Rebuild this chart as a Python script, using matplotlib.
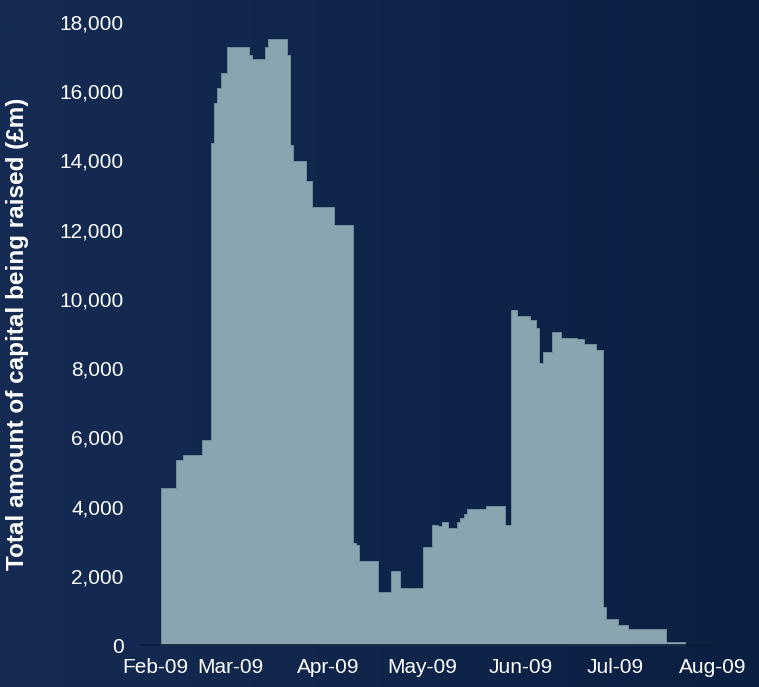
import numpy as np
import pandas as pd
import matplotlib
matplotlib.use("Agg")
import matplotlib.pyplot as plt
import matplotlib.dates as mdates
import matplotlib.ticker as mticker
import matplotlib.transforms as mtransforms

plt.rcParams["font.family"] = ["Liberation Sans", "DejaVu Sans"]

# Step changes in the total amount of capital being raised (GBP m)
change_dates = [
    "2009-02-07", "2009-02-12", "2009-02-14", "2009-02-20", "2009-02-23",
    "2009-02-24", "2009-02-25", "2009-02-26", "2009-02-28", "2009-03-07",
    "2009-03-08", "2009-03-12", "2009-03-13", "2009-03-19", "2009-03-20",
    "2009-03-21", "2009-03-25", "2009-03-27", "2009-04-03", "2009-04-09",
    "2009-04-10", "2009-04-11", "2009-04-17", "2009-04-21", "2009-04-24",
    "2009-05-01", "2009-05-04", "2009-05-06", "2009-05-07", "2009-05-09",
    "2009-05-12", "2009-05-13", "2009-05-14", "2009-05-15", "2009-05-21",
    "2009-05-27", "2009-05-29", "2009-05-31", "2009-06-04", "2009-06-06",
    "2009-06-07", "2009-06-08", "2009-06-11", "2009-06-14", "2009-06-19",
    "2009-06-21", "2009-06-25", "2009-06-27", "2009-06-28", "2009-07-02",
    "2009-07-05", "2009-07-17", "2009-07-23",
]
capital_raised = [
    4550, 5340, 5500, 5920, 14500,
    15650, 16100, 16540, 17270, 17050,
    16930, 17270, 17510, 17050, 14440,
    13990, 13410, 12660, 12130, 2960,
    2890, 2440, 1530, 2150, 1640,
    2830, 3480, 3430, 3540, 3370,
    3540, 3660, 3790, 3940, 4010,
    3480, 9690, 9520, 9400, 9150,
    8140, 8480, 9050, 8880, 8840,
    8710, 8530, 1110, 760, 590,
    470, 80, 0,
]
month_ticks = ["2009-02-01", "2009-03-01", "2009-04-01", "2009-05-01",
               "2009-06-01", "2009-07-01", "2009-08-01"]

df = pd.DataFrame({"date": pd.to_datetime(change_dates), "value": capital_raised})

fig = plt.figure(figsize=(7.59, 6.87), dpi=100)

# navy gradient background
bg = fig.add_axes([0, 0, 1, 1], zorder=-10)
left_col = np.array([21, 43, 83]) / 255
right_col = np.array([11, 31, 66]) / 255
t = np.linspace(0, 1, 256)
grad = left_col[None, :] * (1 - t[:, None]) + right_col[None, :] * t[:, None]
bg.imshow(grad[None, :, :], aspect="auto", extent=[0, 1, 0, 1])
bg.set_axis_off()

ax = fig.add_axes([0.1866, 0.0611, 0.7528, 0.9069])
ax.patch.set_alpha(0)

ax.fill_between(df["date"], df["value"], step="post", color="#89a5b0",
                edgecolor="#7893a1", linewidth=0.6)

ax.set_xlim(pd.Timestamp("2009-02-01"), pd.Timestamp("2009-08-01"))
ax.set_ylim(0, 18000)

ax.xaxis.set_major_locator(mticker.FixedLocator(mdates.date2num(pd.to_datetime(month_ticks))))
ax.xaxis.set_major_formatter(mdates.DateFormatter("%b-%y"))
ax.yaxis.set_major_locator(mticker.MultipleLocator(2000))
ax.yaxis.set_major_formatter(mticker.FuncFormatter(lambda v, p: f"{v:,.0f}"))

ax.tick_params(axis="both", length=0, colors="white", labelsize=15)
ax.tick_params(axis="x", pad=9)
ax.tick_params(axis="y", pad=13)

for side in ["top", "right", "left"]:
    ax.spines[side].set_visible(False)
ax.spines["bottom"].set_color("#081a38")
ax.spines["bottom"].set_linewidth(1.2)

ax.set_ylabel("Total amount of capital being raised (£m)", color="white",
              fontsize=17.5, fontweight="bold", labelpad=22)

# first month label sits to the right of its tick in the original
fig.canvas.draw()
first = ax.get_xticklabels()[0]
first.set_transform(first.get_transform() +
                    mtransforms.ScaledTranslation(0.14, 0, fig.dpi_scale_trans))

fig.savefig("out.png", dpi=100)
plt.close(fig)
